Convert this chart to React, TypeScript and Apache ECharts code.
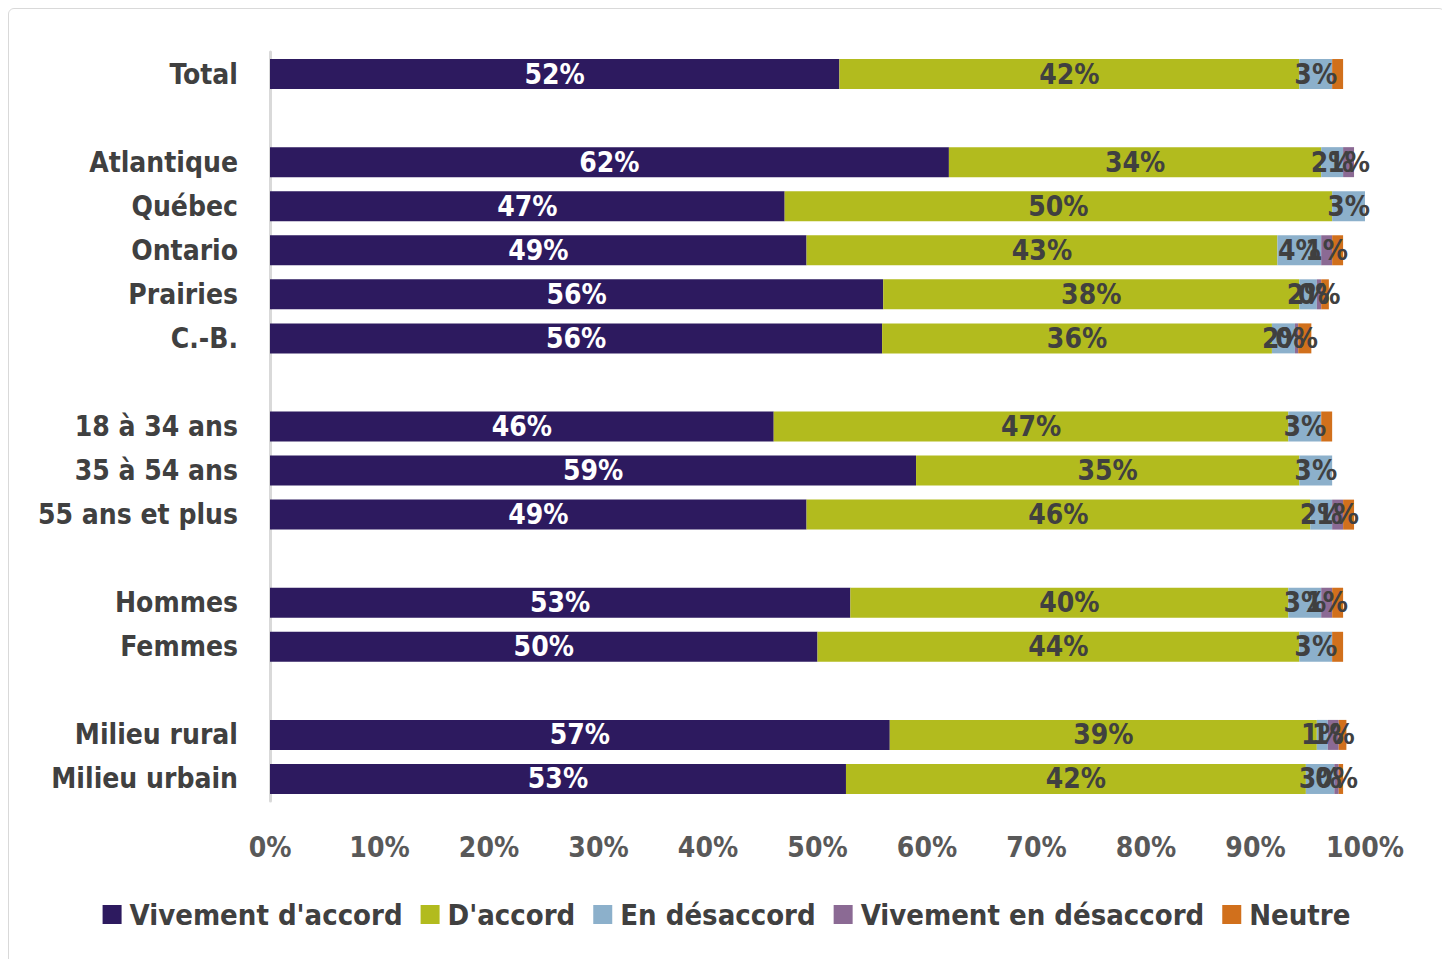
import React, { useEffect, useRef } from "react";
import * as echarts from "echarts";

const categories = [
  "Total", "", "Atlantique", "Québec", "Ontario", "Prairies", "C.-B.", " ",
  "18 à 34 ans", "35 à 54 ans", "55 ans et plus", "  ", "Hommes", "Femmes", "   ",
  "Milieu rural", "Milieu urbain",
];
const vivementAccord = [52, null, 62, 47, 49, 56, 55.9, null, 46, 59, 49, null, 53, 50, null, 56.6, 52.6];
const accord = [42, null, 34, 50, 43, 38, 35.6, null, 47, 35, 46, null, 40, 44, null, 39, 42];
const desaccord = [3, null, 2, 3, 4, 1.6, 2.1, null, 3, 3, 2, null, 3, 3, null, 1, 2.6];
const vivementDesaccord = [0, null, 1, 0, 1, 0.4, 0.3, null, 0, 0, 1, null, 1, 0, null, 1, 0.4];
const neutre = [1, null, 0, 0, 1, 0.7, 1.2, null, 1, 0, 1, null, 1, 1, null, 0.7, 0.4];
const xTicks = [0, 10, 20, 30, 40, 50, 60, 70, 80, 90, 100];

const FONT = "'DejaVu Sans Condensed', sans-serif";
const TXT = "#404040";

export default function App() {
  const ref = useRef<HTMLDivElement>(null);
  useEffect(() => {
    if (!ref.current) return;
    const chart = echarts.init(ref.current, null, { renderer: "svg" });
    const mk = (name: string, data: (number | null)[], color: string, labelColor: string, showLabel: boolean) => ({
      name,
      type: "bar",
      stack: "all",
      barWidth: 30,
      data: data.map((v) => (v === null ? "-" : v)),
      itemStyle: { color },
      label: {
        show: showLabel,
        position: "inside",
        color: labelColor,
        fontFamily: FONT,
        fontSize: 28,
        fontWeight: "bold",
        formatter: (p: any) => (p.value > 0 ? Math.round(p.value) + "%" : ""),
      },
    });
    chart.setOption({
      animation: false,
      textStyle: { fontFamily: FONT },
      grid: { left: 261, right: 79, top: 43, bottom: 166 },
      xAxis: {
        type: "value",
        min: 0,
        max: 100,
        interval: 10,
        axisLine: { show: false },
        axisTick: { show: false },
        splitLine: { show: false },
        axisLabel: {
          margin: 32,
          fontSize: 28,
          fontWeight: "bold",
          color: "#595959",
          fontFamily: FONT,
          formatter: (v: number) => (xTicks.includes(v) ? v + "%" : ""),
        },
      },
      yAxis: {
        type: "category",
        inverse: true,
        data: categories,
        axisLine: { show: true, lineStyle: { color: "#d9d9d9", width: 3 } },
        axisTick: { show: false },
        axisLabel: {
          margin: 32,
          fontSize: 28,
          fontWeight: "bold",
          color: TXT,
          fontFamily: FONT,
        },
      },
      legend: {
        bottom: 33,
        left: "center",
        itemWidth: 19,
        itemHeight: 19,
        itemGap: 18,
        icon: "rect",
        textStyle: { fontSize: 29, fontWeight: "bold", color: TXT, fontFamily: FONT, padding: [0, 0, 0, 3] },
      },
      series: [
        mk("Vivement d'accord", vivementAccord, "#2d1a5f", "#ffffff", true),
        mk("D'accord", accord, "#b2bb1e", TXT, true),
        mk("En désaccord", desaccord, "#8cb0cb", TXT, true),
        mk("Vivement en désaccord", vivementDesaccord, "#8b6a94", TXT, true),
        mk("Neutre", neutre, "#d1701c", TXT, false),
      ],
    });
    return () => chart.dispose();
  }, []);
  return (
    <div
      style={{
        width: 1437,
        height: 960,
        border: "1px solid #d9d9d9",
        borderRadius: 6,
        boxSizing: "border-box",
        background: "#fff",
      }}
    >
      <div ref={ref} style={{ width: 1435, height: 958 }} />
    </div>
  );
}
